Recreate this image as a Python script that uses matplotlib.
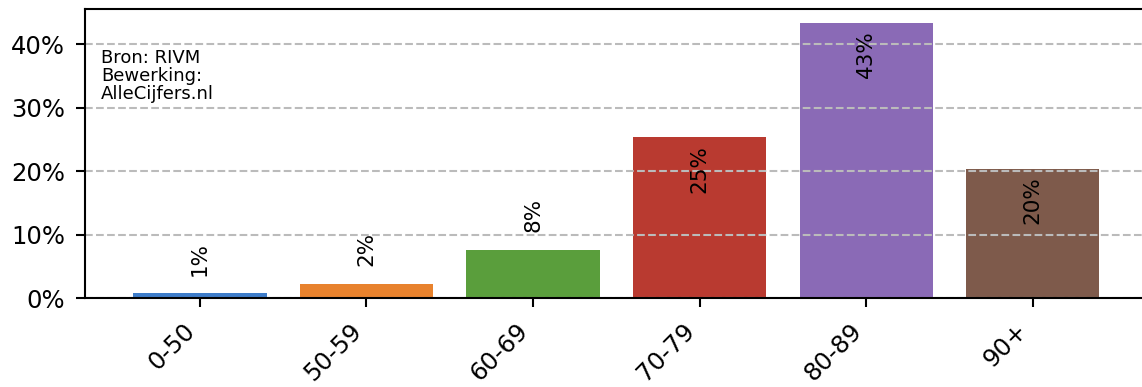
import matplotlib
matplotlib.use("Agg")
import matplotlib.pyplot as plt
from matplotlib.ticker import FuncFormatter

leeftijden = ["0-50", "50-59", "60-69", "70-79", "80-89", "90+"]
percentages = [0.8, 2.3, 7.7, 25.4, 43.4, 20.4]
labels = ["1%", "2%", "8%", "25%", "43%", "20%"]
kleuren = ["#3d7cc9", "#e8822d", "#5a9e3c", "#b93a30", "#8a6ab6", "#7e5a4b"]

fig = plt.figure(figsize=(11.42, 3.87), dpi=100)
ax = fig.add_axes([0.0744, 0.2287, 0.9306, 0.7483])

x = range(len(leeftijden))
ax.bar(x, percentages, color=kleuren, width=0.8, zorder=2)

# grid over de balken heen
ax.grid(axis="y", linestyle="--", color="#bbbbbb", linewidth=1.5, zorder=3)
ax.set_axisbelow(False)

for i in x:
    v = percentages[i]
    if v < 10:
        ax.text(i, v + 2.8, labels[i], rotation=90, ha="center", va="bottom",
                fontsize=15.5, zorder=4)
    else:
        ax.text(i, v - 1.2, labels[i], rotation=90, ha="center", va="top",
                fontsize=15.5, zorder=4)

ax.set_xticks(list(x))
ax.set_xticklabels(leeftijden, rotation=45, ha="right", fontsize=17.5)
ax.yaxis.set_major_formatter(FuncFormatter(lambda v, p: "%d%%" % v))
ax.set_yticks([0, 10, 20, 30, 40])
ax.tick_params(axis="y", labelsize=17.5)
ax.tick_params(length=6.5, width=1.5, pad=8)

for s in ax.spines.values():
    s.set_linewidth(1.5)
    s.set_zorder(5)
ax.spines["right"].set_visible(False)

ax.text(0.015, 0.86, "Bron: RIVM\nBewerking:\nAlleCijfers.nl", transform=ax.transAxes,
        ha="left", va="top", fontsize=13, linespacing=1.0, zorder=5)

fig.savefig("out.png", dpi=100)
